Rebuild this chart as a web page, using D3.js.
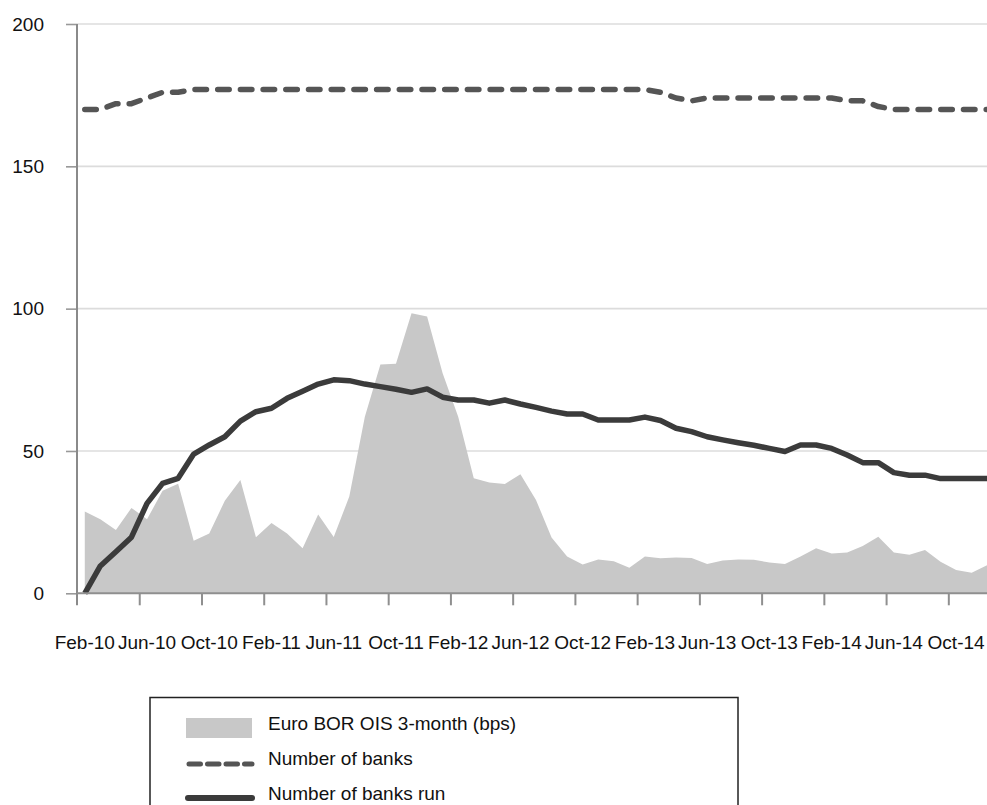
<!DOCTYPE html>
<html>
<head>
<meta charset="utf-8">
<script src="https://cdn.jsdelivr.net/npm/d3@7"></script>
<style>
  html, body { margin: 0; padding: 0; background: #fff; }
  svg { display: block; }
  text { font-family: "Liberation Sans", Arial, sans-serif; fill: #111; }
</style>
</head>
<body>
<svg id="chart" width="987" height="805"></svg>
<script>
// ---------------- data ----------------
const months = [
  "Feb-10","Mar-10","Apr-10","May-10","Jun-10","Jul-10","Aug-10","Sep-10","Oct-10","Nov-10","Dec-10",
  "Jan-11","Feb-11","Mar-11","Apr-11","May-11","Jun-11","Jul-11","Aug-11","Sep-11","Oct-11","Nov-11","Dec-11",
  "Jan-12","Feb-12","Mar-12","Apr-12","May-12","Jun-12","Jul-12","Aug-12","Sep-12","Oct-12","Nov-12","Dec-12",
  "Jan-13","Feb-13","Mar-13","Apr-13","May-13","Jun-13","Jul-13","Aug-13","Sep-13","Oct-13","Nov-13","Dec-13",
  "Jan-14","Feb-14","Mar-14","Apr-14","May-14","Jun-14","Jul-14","Aug-14","Sep-14","Oct-14","Nov-14","Dec-14"
];
const tickLabels = ["Feb-10","Jun-10","Oct-10","Feb-11","Jun-11","Oct-11","Feb-12","Jun-12",
  "Oct-12","Feb-13","Jun-13","Oct-13","Feb-14","Jun-14","Oct-14"];
const yTicks = [0, 50, 100, 150, 200];

// Euro BOR OIS 3-month spread (bps)
const oisSpread = [28.7,26,22.2,30,26,36,38.5,18.5,21,32.5,39.8,
  19.7,24.7,21,15.8,27.7,19.8,34,62,80.4,80.6,98.4,97.2,
  77.3,62,40.4,38.9,38.4,41.8,32.8,19.6,12.9,10.1,11.9,11.3,
  9,12.9,12.3,12.6,12.4,10.3,11.5,11.9,11.8,10.8,10.3,12.9,
  15.8,14,14.3,16.6,19.9,14.3,13.5,15.2,11.1,8.2,7.2,9.9];
// Number of banks
const numBanks = [170,170,172,172,174,176,176,177,177,177,177,
  177,177,177,177,177,177,177,177,177,177,177,177,
  177,177,177,177,177,177,177,177,177,177,177,177,
  177,177,176,174,173,174,174,174,174,174,174,174,
  174,174,173,173,171,170,170,170,170,170,170,170];
// Number of banks run
const banksRun = [0,9.6,14.6,19.7,31.6,38.6,40.4,48.9,52.1,55,60.5,
  63.8,65,68.5,71,73.5,75,74.7,73.5,72.6,71.7,70.6,71.8,
  68.9,67.9,67.9,66.8,67.9,66.5,65.3,64,63,63,60.9,60.9,
  60.9,61.9,60.7,58,56.8,55,53.9,52.9,52,50.9,49.8,52.1,
  52.1,50.9,48.6,45.9,45.9,42.4,41.5,41.5,40.3,40.3,40.3,40.3];

const legendItems = ["Euro BOR OIS 3-month (bps)", "Number of banks", "Number of banks run"];

// ---------------- layout ----------------
const svg = d3.select("#chart");
const X0 = 77, X1 = 995, Y0 = 593.3, Y1 = 24, RIGHT = 987;

const x = d3.scaleBand().domain(months).range([X0, X1]).paddingInner(0).paddingOuter(0);
const xc = d => x(d) + x.bandwidth() / 2;
const xb = d3.scaleLinear().domain([0, months.length]).range([X0, X1]);
const y = d3.scaleLinear().domain([0, 200]).range([Y0, Y1]);

// gridlines
svg.append("g").selectAll("line")
  .data(yTicks.filter(v => v > 0))
  .join("line")
  .attr("x1", X0).attr("x2", RIGHT)
  .attr("y1", d => y(d)).attr("y2", d => y(d))
  .attr("stroke", "#dcdcdc").attr("stroke-width", 1.6);

// area
const area = d3.area()
  .x((d, i) => xc(months[i]))
  .y0(y(0))
  .y1(d => y(d));
svg.append("path")
  .datum(oisSpread)
  .attr("d", area)
  .attr("fill", "#c8c8c8");

// lines
const line = d3.line()
  .x((d, i) => xc(months[i]))
  .y(d => y(d));

svg.append("path")
  .datum(numBanks)
  .attr("d", line)
  .attr("fill", "none")
  .attr("stroke", "#555")
  .attr("stroke-width", 5.5)
  .attr("stroke-linecap", "round")
  .attr("stroke-linejoin", "round")
  .attr("stroke-dasharray", "11.5 11.2");

svg.append("path")
  .datum(banksRun)
  .attr("d", line)
  .attr("fill", "none")
  .attr("stroke", "#3b3b3b")
  .attr("stroke-width", 5.5)
  .attr("stroke-linecap", "butt")
  .attr("stroke-linejoin", "round");

// y axis
const yAxis = d3.axisLeft(y).tickValues(yTicks).tickSize(11).tickPadding(22).tickFormat(d3.format("d"));
const gy = svg.append("g").attr("transform", `translate(${X0},0)`).call(yAxis);
gy.select(".domain").remove();
gy.selectAll(".tick line").attr("stroke", "#999").attr("stroke-width", 1.6);
gy.selectAll(".tick text").attr("font-size", 19).attr("font-family", "Liberation Sans, Arial, sans-serif").attr("fill", "#111");
svg.append("line")
  .attr("x1", X0).attr("x2", X0).attr("y1", Y1).attr("y2", Y0 + 12)
  .attr("stroke", "#8a8a8a").attr("stroke-width", 2);

// x axis: baseline + boundary ticks
svg.append("line")
  .attr("x1", X0).attr("x2", RIGHT).attr("y1", Y0).attr("y2", Y0)
  .attr("stroke", "#8f8f8f").attr("stroke-width", 2);
const tickIdx = tickLabels.map(l => months.indexOf(l)).filter(i => i > 0);
const xTickAxis = d3.axisBottom(xb).tickValues(tickIdx).tickSize(12).tickFormat("");
const gxt = svg.append("g").attr("transform", `translate(0,${Y0})`).call(xTickAxis);
gxt.select(".domain").remove();
gxt.selectAll(".tick line").attr("stroke", "#8f8f8f").attr("stroke-width", 2);

// x labels at category centres
const xLabAxis = d3.axisBottom(x).tickValues(tickLabels).tickSize(0).tickPadding(0);
const gxl = svg.append("g").attr("transform", `translate(0,${Y0})`).call(xLabAxis);
gxl.select(".domain").remove();
gxl.selectAll(".tick text")
  .attr("font-size", 19)
  .attr("font-family", "Liberation Sans, Arial, sans-serif")
  .attr("fill", "#111")
  .attr("dy", null)
  .attr("y", 56);

// ---------------- legend ----------------
const lg = svg.append("g");
lg.append("rect")
  .attr("x", 150).attr("y", 697.5).attr("width", 588).attr("height", 200)
  .attr("fill", "none").attr("stroke", "#222").attr("stroke-width", 1.5);

const legY = [728, 763, 798];
lg.append("rect").attr("x", 186).attr("y", legY[0] - 10).attr("width", 66).attr("height", 20).attr("fill", "#c8c8c8");
lg.append("line").attr("x1", 189).attr("x2", 252).attr("y1", legY[1] + 1).attr("y2", legY[1] + 1)
  .attr("stroke", "#555").attr("stroke-width", 5).attr("stroke-linecap", "round")
  .attr("stroke-dasharray", "11.5 7");
lg.append("line").attr("x1", 188).attr("x2", 252).attr("y1", legY[2]).attr("y2", legY[2])
  .attr("stroke", "#3b3b3b").attr("stroke-width", 6).attr("stroke-linecap", "round");

lg.selectAll("text.leg")
  .data(legendItems)
  .join("text")
  .attr("class", "leg")
  .attr("x", 268)
  .attr("y", (d, i) => legY[i])
  .attr("dy", "0.12em")
  .attr("font-size", 19)
  .text(d => d);
</script>
</body>
</html>
